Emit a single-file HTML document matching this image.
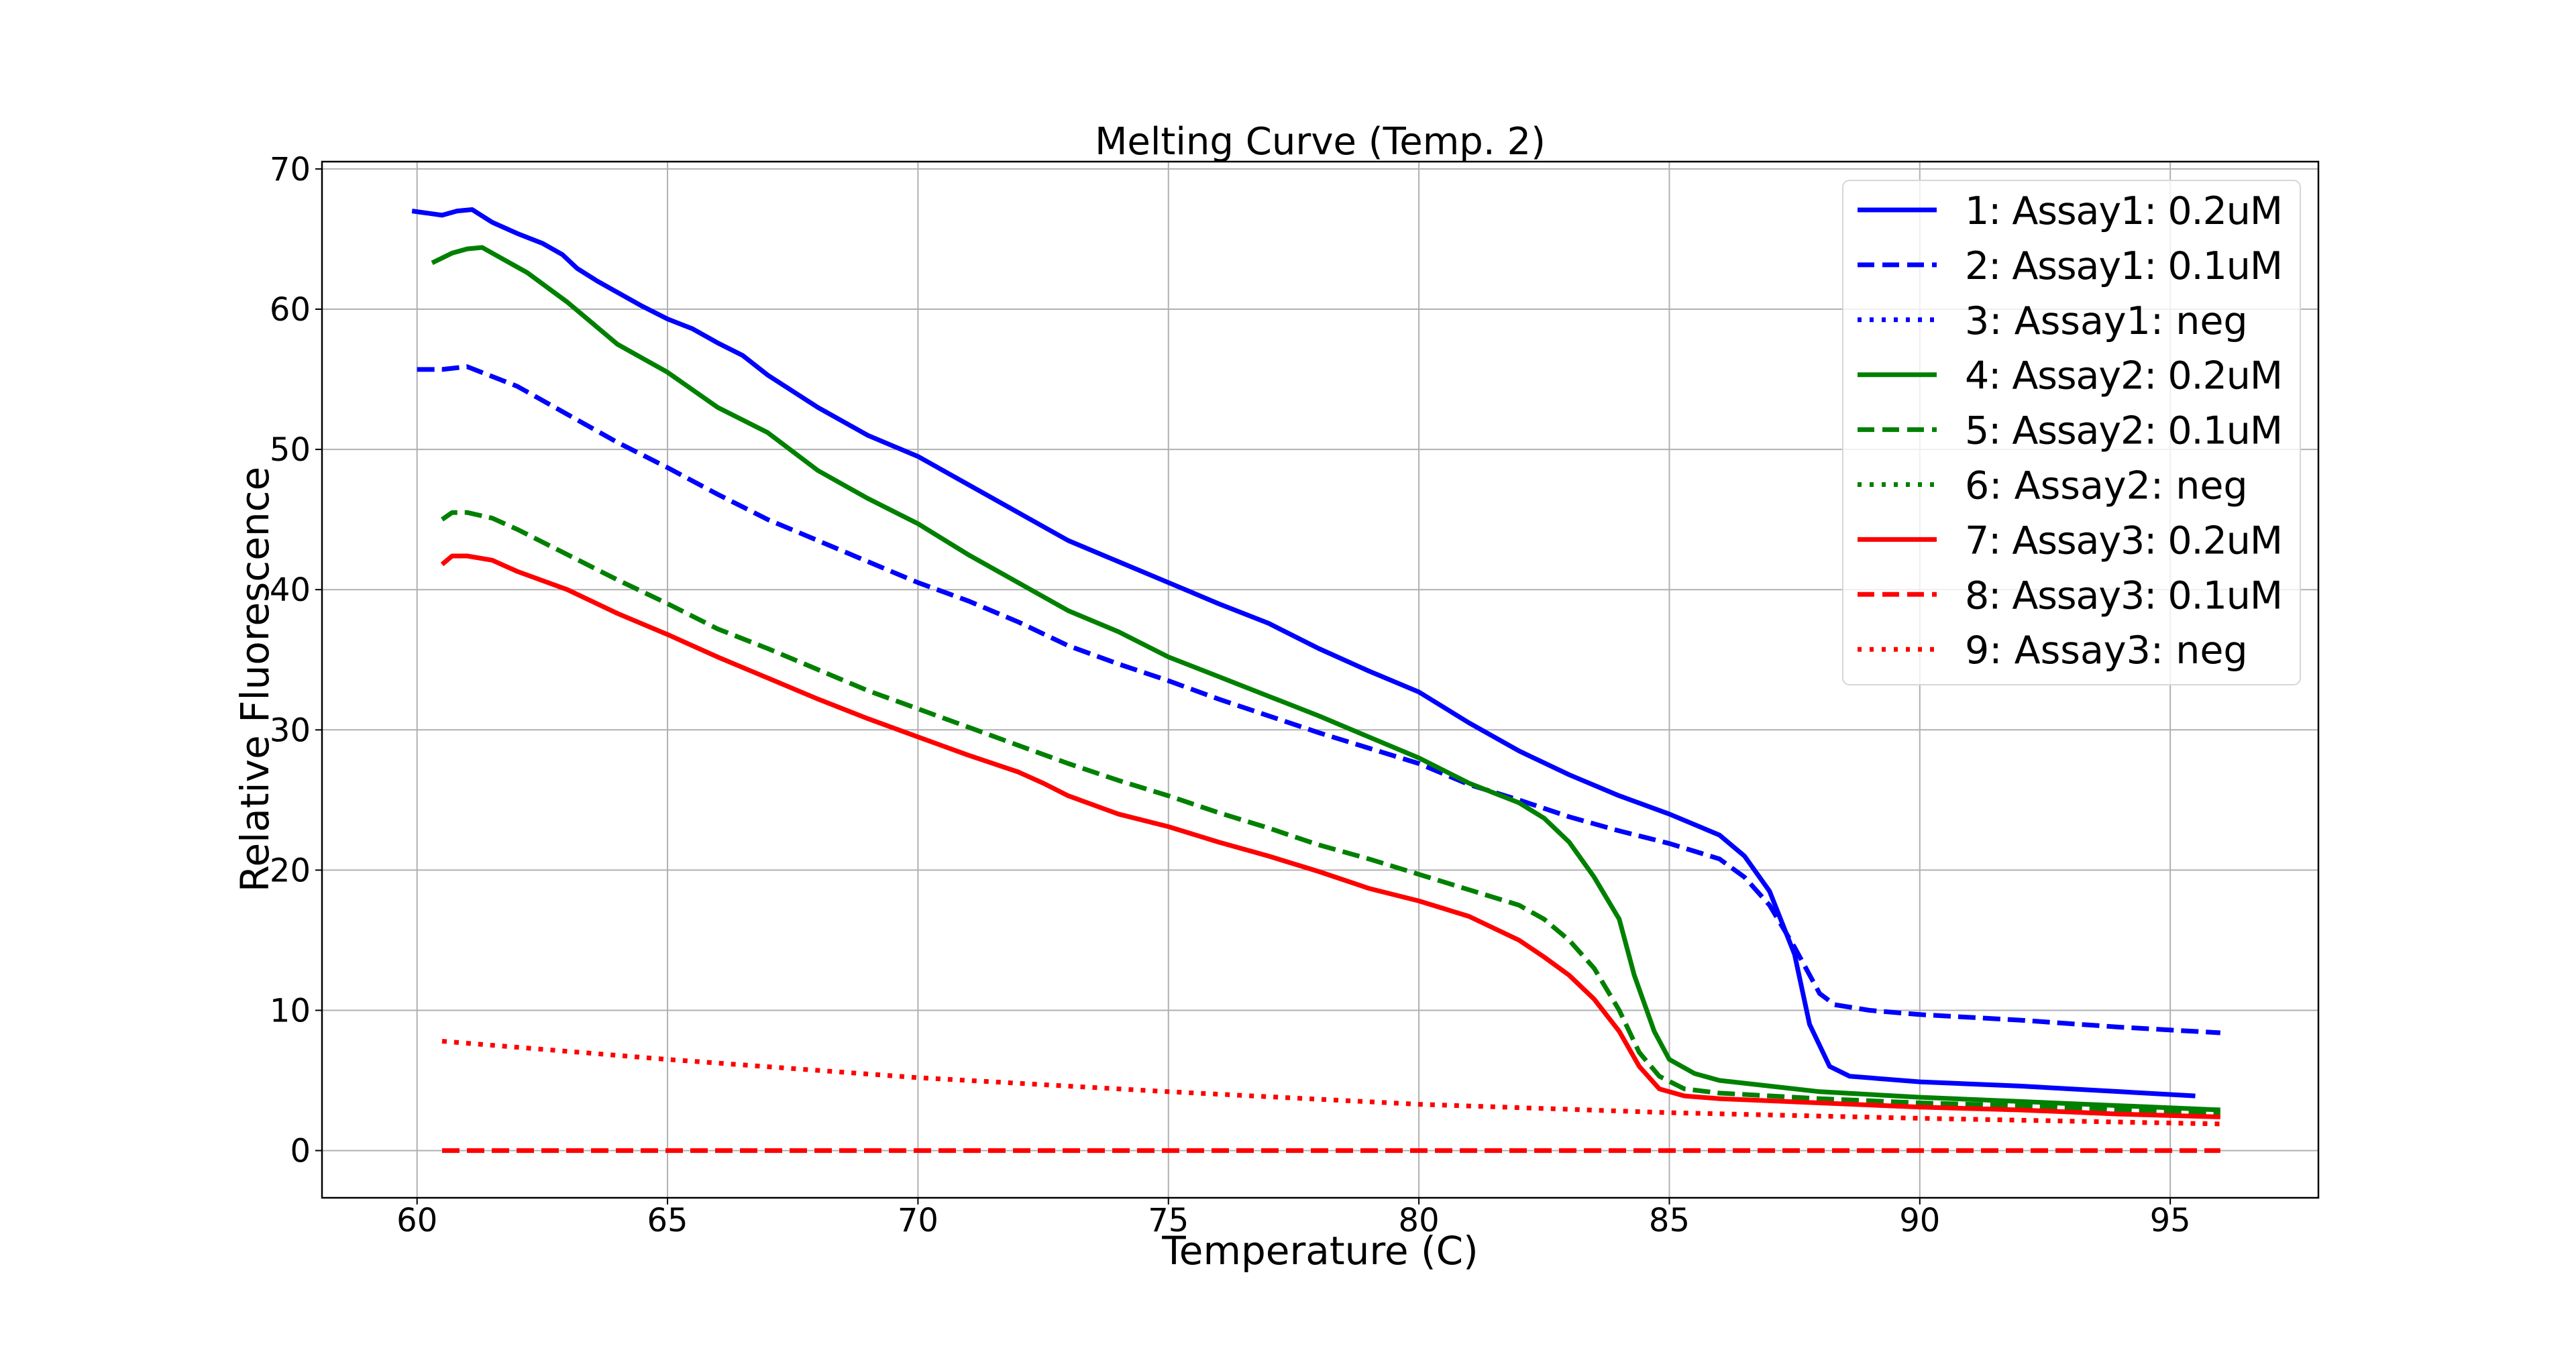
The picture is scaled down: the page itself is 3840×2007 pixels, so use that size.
<!DOCTYPE html>
<html><head><meta charset="utf-8"><style>
html,body{margin:0;padding:0;background:#fff;}
svg{display:block;font-family:"DejaVu Sans","Liberation Sans",sans-serif;}
</style></head><body>
<svg id="chart" width="3840" height="2007" viewBox="0 0 3840 2007" xmlns="http://www.w3.org/2000/svg">
<rect width="3840" height="2007" fill="#fff"/>
<g id="grid"></g>
<g id="series"></g>
<rect x="480" y="241" width="2976" height="1545" fill="none" stroke="#000" stroke-width="2.5"/>
<g id="ticks"></g>
<text x="1968" y="230" font-size="56" text-anchor="middle">Melting Curve (Temp. 2)</text>
<text x="1968" y="1885" font-size="58" text-anchor="middle">Temperature (C)</text>
<text transform="translate(400,1013) rotate(-90)" font-size="58" text-anchor="middle">Relative Fluorescence</text>
<g id="legend"></g>
</svg>
<script>
const xTicks=[60,65,70,75,80,85,90,95];
const yTicks=[0,10,20,30,40,50,60,70];
const labels=["1: Assay1: 0.2uM","2: Assay1: 0.1uM","3: Assay1: neg","4: Assay2: 0.2uM","5: Assay2: 0.1uM","6: Assay2: neg","7: Assay3: 0.2uM","8: Assay3: 0.1uM","9: Assay3: neg"];
const s1x=[59.9,60.5,60.8,61.1,61.5,62,62.5,62.9,63.2,63.6,64,64.5,65,65.5,66,66.5,67,68,69,70,71,72,73,74,75,76,77,78,79,80,81,82,83,84,85,86,86.5,87,87.5,87.8,88.2,88.6,90,92,94,95.5];
const s1y=[67,66.7,67,67.1,66.2,65.4,64.7,63.9,62.9,62,61.2,60.2,59.3,58.6,57.6,56.7,55.3,53,51,49.5,47.5,45.5,43.5,42,40.5,39,37.6,35.8,34.2,32.7,30.5,28.5,26.8,25.3,24,22.5,21,18.5,14,9,6,5.3,4.9,4.6,4.2,3.9];
const s2x=[60,60.5,61,62,63,64,65,66,67,68,69,70,71,72,73,74,75,76,77,78,79,80,81,82,83,84,85,86,86.5,87,87.5,88,88.3,89,90,92,94,96];
const s2y=[55.7,55.7,55.9,54.5,52.5,50.5,48.7,46.8,45,43.5,42,40.5,39.2,37.7,36,34.7,33.5,32.2,31,29.8,28.7,27.6,26.1,25,23.8,22.8,21.9,20.8,19.5,17.5,14.5,11.2,10.4,10,9.7,9.3,8.8,8.4];
const s4x=[60.3,60.7,61,61.3,61.7,62.2,63,64,65,66,67,68,69,70,71,72,73,74,75,76,77,78,79,80,81,82,82.5,83,83.5,84,84.3,84.7,85,85.5,86,87,88,90,92,94,96];
const s4y=[63.3,64,64.3,64.4,63.6,62.6,60.5,57.5,55.5,53,51.2,48.5,46.5,44.7,42.5,40.5,38.5,37,35.2,33.8,32.4,31,29.5,28,26.2,24.8,23.7,22,19.5,16.5,12.5,8.5,6.5,5.5,5,4.6,4.2,3.8,3.5,3.2,2.9];
const s5x=[60.5,60.7,61,61.5,62,63,64,65,66,67,68,69,70,71,72,73,74,75,76,77,78,79,80,81,82,82.5,83,83.5,84,84.4,84.8,85.3,86,88,90,92,94,96];
const s5y=[45,45.5,45.5,45.1,44.3,42.5,40.7,39,37.2,35.8,34.3,32.8,31.5,30.2,28.9,27.6,26.4,25.3,24.1,23,21.8,20.8,19.7,18.6,17.5,16.5,15,13,10,7,5.3,4.4,4.1,3.7,3.4,3.2,2.9,2.7];
const s7x=[60.5,60.7,61,61.5,62,63,64,65,66,67,68,69,70,71,72,72.5,73,74,75,76,77,78,79,80,81,82,82.5,83,83.5,84,84.4,84.8,85.3,86,88,90,92,94,96];
const s7y=[41.8,42.4,42.4,42.1,41.3,40,38.3,36.8,35.2,33.7,32.2,30.8,29.5,28.2,27,26.2,25.3,24,23.1,22,21,19.9,18.7,17.8,16.7,15,13.8,12.5,10.8,8.5,6,4.4,3.9,3.7,3.4,3.1,2.9,2.6,2.4];
const s8x=[60.5,96];
const s8y=[0,0];
const s9x=[60.5,65,70,75,80,85,90,96];
const s9y=[7.8,6.5,5.2,4.2,3.3,2.7,2.3,1.9];

const X0=480,X1=3456,Y0=241,Y1=1786;
function xs(v){return 621.7+(v-60)*74.67;}
function ys(v){return 1715.6-v*20.91;}
const NS="http://www.w3.org/2000/svg";
function mk(tag,attrs,parent){const e=document.createElementNS(NS,tag);for(const k in attrs)e.setAttribute(k,attrs[k]);parent.appendChild(e);return e;}
const grid=document.getElementById('grid'),ticks=document.getElementById('ticks');
xTicks.forEach(t=>{
  const x=xs(t);
  const g=mk('line',{x1:x,x2:x,y1:Y0,y2:Y1,stroke:'#b0b0b0','stroke-width':2},grid);
  
  
  const tk=mk('line',{x1:x,x2:x,y1:Y1,y2:Y1+10,stroke:'#000','stroke-width':2},ticks);
  
  
  const tl=mk('text',{x:x,y:Y1+50,'font-size':48,'text-anchor':'middle'},ticks);
  tl.textContent=t;
  
  
});
yTicks.forEach(t=>{
  const y=ys(t);
  const g=mk('line',{x1:X0,x2:X1,y1:y,y2:y,stroke:'#b0b0b0','stroke-width':2},grid);
  
  
  const tk=mk('line',{x1:X0-10,x2:X0,y1:y,y2:y,stroke:'#000','stroke-width':2},ticks);
  
  
  const tl=mk('text',{x:X0-17,y:y+17,'font-size':48,'text-anchor':'end'},ticks);
  tl.textContent=t;
  
  
});
const DASH='26,11',DOT='7,11';
const series=[
 {x:s1x,y:s1y,c:'#0000ff',d:null,n:'series-1-assay1-0.2um'},
 {x:s2x,y:s2y,c:'#0000ff',d:DASH,n:'series-2-assay1-0.1um'},
 {x:s4x,y:s4y,c:'#008000',d:null,n:'series-4-assay2-0.2um'},
 {x:s5x,y:s5y,c:'#008000',d:DASH,n:'series-5-assay2-0.1um'},
 {x:s7x,y:s7y,c:'#ff0000',d:null,n:'series-7-assay3-0.2um'},
 {x:s8x,y:s8y,c:'#ff0000',d:DASH,n:'series-8-assay3-0.1um'},
 {x:s9x,y:s9y,c:'#ff0000',d:DOT,n:'series-9-assay3-neg'}
];
const sg=document.getElementById('series');
series.forEach(s=>{
  const pts=s.x.map((v,i)=>xs(v).toFixed(1)+','+ys(s.y[i]).toFixed(1)).join(' ');
  const a={points:pts,fill:'none',stroke:s.c,'stroke-width':7,'stroke-linejoin':'round'};
  if(s.d)a['stroke-dasharray']=s.d;
  const p=mk('polyline',a,sg);
  
  
});
const lg=document.getElementById('legend');
const box=mk('rect',{x:2747,y:269,width:682,height:752,rx:10,fill:'#fff','fill-opacity':0.8,stroke:'#d6d6d6','stroke-width':2},lg);


const cols=['#0000ff','#0000ff','#0000ff','#008000','#008000','#008000','#ff0000','#ff0000','#ff0000'];
const dashes=[null,'25,12','6,12',null,'25,12','6,12',null,'25,12','6,12'];
labels.forEach((l,i)=>{
  const y=313+i*81.9;
  const a={x1:2769,x2:2887,y1:y,y2:y,stroke:cols[i],'stroke-width':7};
  if(dashes[i])a['stroke-dasharray']=dashes[i];
  const h=mk('line',a,lg);
  
  
  const t=mk('text',{x:2929,y:y+21,'font-size':57,textLength:l.indexOf('neg')>0?0:474},lg);
  if(l.indexOf('neg')>0)t.removeAttribute('textLength');
  t.textContent=l;
  
  
});
</script>
</body></html>
